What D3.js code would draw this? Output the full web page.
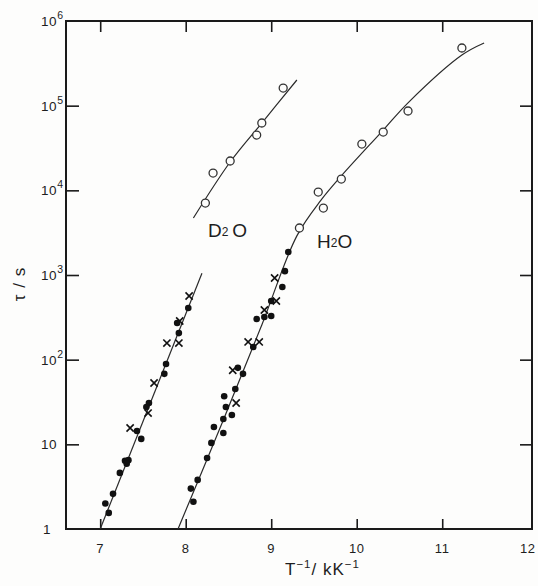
<!DOCTYPE html>
<html>
<head>
<meta charset="utf-8">
<script src="https://cdn.jsdelivr.net/npm/d3@7"></script>
<style>
  html, body { margin: 0; padding: 0; background: #fdfdfc; }
  svg { display: block; }
  text { font-family: "Liberation Sans", Arial, sans-serif; fill: #1e1e1e; }
</style>
</head>
<body>
<svg id="chart" width="538" height="586"></svg>
<script>
// tick values
var xTicks = [7, 8, 9, 10, 11, 12];
var yTicks = [1, 10, 100, 1e3, 1e4, 1e5, 1e6];
var yExp = [0, 1, 2, 3, 4, 5, 6];

// D2O, open circles
var d2oOpenX = [8.23, 8.32, 8.52, 8.83, 8.89, 9.14];
var d2oOpenTau = [7080, 16000, 22200, 45000, 62400, 161500];

// H2O, open circles
var h2oOpenX = [9.33, 9.61, 9.55, 9.82, 10.06, 10.31, 10.60, 11.23];
var h2oOpenTau = [3590, 6180, 9550, 13600, 35200, 48800, 86500, 480000];

// D2O low temperature, filled dots
var d2oDotX = [8.03, 7.90, 7.92, 7.77, 7.75, 7.57, 7.54, 7.43, 7.48, 7.29, 7.33, 7.31, 7.23, 7.15, 7.06, 7.10];
var d2oDotTau = [407, 271, 206, 89, 68, 30.8, 27.6, 14.4, 11.6, 6.4, 6.5, 5.9, 4.6, 2.6, 2.0, 1.55];

// D2O low temperature, crosses
var d2oCrossX = [8.04, 7.93, 7.78, 7.92, 7.63, 7.56, 7.35];
var d2oCrossTau = [565, 286, 157, 157, 53, 23.4, 15.6];

// H2O low temperature, filled dots
var h2oDotX = [9.20, 9.16, 9.13, 9.00, 8.83, 8.92, 9.00, 8.79, 8.61, 8.67, 8.58, 8.45, 8.47, 8.54, 8.44, 8.33, 8.44, 8.30, 8.25, 8.14, 8.06, 8.09];
var h2oDotTau = [1870, 1110, 721, 493, 302, 319, 328, 141, 80, 68, 45, 37, 27.6, 22.2, 19.9, 16.0, 13.6, 10.4, 6.9, 3.8, 3.0, 2.1];

// H2O low temperature, crosses
var h2oCrossX = [9.04, 9.06, 8.92, 8.73, 8.86, 8.55, 8.59];
var h2oCrossTau = [921, 493, 386, 162, 162, 75, 30.8];

// drawn curves
var d2oLowLineX = [7.0, 8.19];
var d2oLowLineTau = [1, 1050];
var d2oHighLineX = [8.09, 8.52, 8.89, 9.30];
var d2oHighLineTau = [4710, 21600, 62400, 201000];
var h2oLineX = [7.91, 8.44, 8.89, 9.30, 9.58, 9.82, 10.31, 10.60, 11.23, 11.49];
var h2oLineTau = [1, 19.4, 257, 2900, 7600, 14800, 51500, 108000, 396000, 550000];

var zip = function(xs, ys) {
  return xs.map(function(v, i) { return [v, ys[i]]; });
};

var plotLeft = 66, plotRight = 532, plotTop = 21, plotBottom = 529;

var x = d3.scaleLinear().domain([6.6, 12.05]).range([plotLeft, plotRight]);
var y = d3.scaleLog().domain([1, 1e6]).range([plotBottom, plotTop]);

var svg = d3.select('#chart');

// frame
svg.append('rect')
  .attr('x', plotLeft).attr('y', plotTop)
  .attr('width', plotRight - plotLeft).attr('height', plotBottom - plotTop)
  .attr('fill', 'none').attr('stroke', '#1a1a1a').attr('stroke-width', 2);

// inward ticks on all four sides
var tickStyle = function(g) {
  g.select('.domain').remove();
  g.selectAll('.tick line').attr('stroke', '#1a1a1a').attr('stroke-width', 1.6);
  g.selectAll('.tick text').remove();
};

svg.append('g').attr('transform', 'translate(0,' + plotBottom + ')')
  .call(d3.axisBottom(x).tickValues(xTicks.slice(0, 5)).tickSize(-10).tickSizeOuter(0))
  .call(tickStyle);
svg.append('g').attr('transform', 'translate(0,' + plotTop + ')')
  .call(d3.axisTop(x).tickValues(xTicks.slice(0, 5)).tickSize(-11).tickSizeOuter(0))
  .call(tickStyle);
svg.append('g').attr('transform', 'translate(' + plotLeft + ',0)')
  .call(d3.axisLeft(y).tickValues(yTicks.slice(1, 6)).tickSize(-13).tickSizeOuter(0))
  .call(tickStyle);
svg.append('g').attr('transform', 'translate(' + plotRight + ',0)')
  .call(d3.axisRight(y).tickValues(yTicks.slice(1, 6)).tickSize(-12).tickSizeOuter(0))
  .call(tickStyle);

// x tick labels
svg.append('g').selectAll('text')
  .data(xTicks)
  .enter().append('text')
    .attr('x', function(d) { return x(d); })
    .attr('y', 553)
    .attr('text-anchor', 'middle')
    .attr('font-size', 13)
    .attr('letter-spacing', 0.6)
    .text(function(d) { return d; });

// y tick labels, powers of ten
var ylab = svg.append('g').selectAll('text')
  .data(yTicks)
  .enter().append('text')
    .attr('x', 41)
    .attr('y', function(d) { return y(d) + 5; })
    .attr('font-size', 13.5)
    .attr('letter-spacing', 0.6);
ylab.each(function(d, i) {
  var t = d3.select(this);
  var e = yExp[i];
  if (e === 0) { t.attr('x', 43).text('1'); return; }
  t.append('tspan').text('10');
  if (e > 1) {
    t.append('tspan').attr('dy', -7).attr('font-size', 10.5).text(e);
  }
});

// axis titles
var xt = svg.append('text')
  .attr('x', 285).attr('y', 575)
  .attr('font-size', 17)
  .attr('letter-spacing', 1);
xt.append('tspan').text('T');
xt.append('tspan').attr('dy', -7).attr('font-size', 11.5).text('\u2212' + '1');
xt.append('tspan').attr('dy', 7).text('/ kK');
xt.append('tspan').attr('dy', -7).attr('font-size', 11.5).text('\u2212' + '1');

svg.append('text')
  .attr('transform', 'translate(25,284) rotate(-90)')
  .attr('text-anchor', 'middle')
  .attr('font-size', 17)
  .attr('letter-spacing', 1)
  .text('\u03c4 / s');

// curves
var line = d3.line()
  .x(function(d) { return x(d[0]); })
  .y(function(d) { return y(d[1]); })
  .curve(d3.curveCatmullRom.alpha(0.5));

[zip(d2oLowLineX, d2oLowLineTau), zip(d2oHighLineX, d2oHighLineTau), zip(h2oLineX, h2oLineTau)]
  .forEach(function(pts) {
    svg.append('path')
      .attr('d', line(pts))
      .attr('fill', 'none')
      .attr('stroke', '#2a2a2a')
      .attr('stroke-width', 1.2);
  });

// open circles
svg.append('g').selectAll('circle')
  .data(zip(d2oOpenX, d2oOpenTau).concat(zip(h2oOpenX, h2oOpenTau)))
  .enter().append('circle')
    .attr('cx', function(d) { return x(d[0]); })
    .attr('cy', function(d) { return y(d[1]); })
    .attr('r', 4)
    .attr('fill', '#fdfdfc')
    .attr('stroke', '#333')
    .attr('stroke-width', 1.3);

// filled dots
svg.append('g').selectAll('circle')
  .data(zip(d2oDotX, d2oDotTau).concat(zip(h2oDotX, h2oDotTau)))
  .enter().append('circle')
    .attr('cx', function(d) { return x(d[0]); })
    .attr('cy', function(d) { return y(d[1]); })
    .attr('r', 3.3)
    .attr('fill', '#111');

// crosses
var cs = 3.6;
svg.append('g').selectAll('path')
  .data(zip(d2oCrossX, d2oCrossTau).concat(zip(h2oCrossX, h2oCrossTau)))
  .enter().append('path')
    .attr('d', function(d) {
      var px = x(d[0]), py = y(d[1]);
      return 'M' + (px - cs) + ',' + (py - cs) + 'L' + (px + cs) + ',' + (py + cs) +
             'M' + (px - cs) + ',' + (py + cs) + 'L' + (px + cs) + ',' + (py - cs);
    })
    .attr('stroke', '#111')
    .attr('stroke-width', 1.6);

// series labels
var lab = function(px, py, a, b) {
  var t = svg.append('text').attr('x', px).attr('y', py).attr('font-size', 19);
  t.append('tspan').text(a);
  t.append('tspan').attr('font-size', 12).attr('dy', -1).text('2');
  t.append('tspan').attr('dy', 1).text(b);
};
lab(208, 237, 'D', '\u2009O');
lab(317, 248, 'H', 'O');
</script>
</body>
</html>
